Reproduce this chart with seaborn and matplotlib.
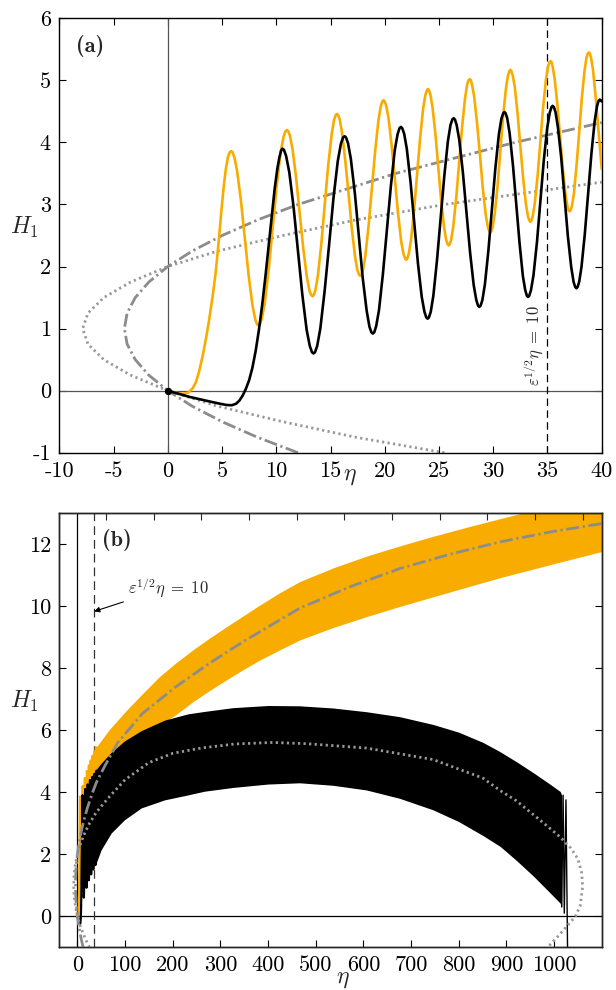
import matplotlib
matplotlib.use("Agg")
import matplotlib.pyplot as plt
import seaborn as sns

# ---- panel (a): H1(eta) curves ----
orange_eta = [0, 0.5, 1.0, 1.5, 1.9, 2.3, 2.6, 2.9, 3.2, 3.5, 3.8, 4.1, 4.4, 4.7, 4.95, 5.15, 5.35, 5.55, 5.71, 5.84,
              5.97, 6.14, 6.39, 6.75, 7.10, 7.45, 7.81, 8.06, 8.23, 8.36,
              8.49, 8.67, 8.94, 9.30, 9.67, 10.04, 10.40, 10.67, 10.85, 10.98,
              11.10, 11.26, 11.50, 11.83, 12.16, 12.49, 12.82, 13.06, 13.22, 13.34,
              13.45, 13.61, 13.84, 14.15, 14.47, 14.78, 15.10, 15.32, 15.48, 15.59,
              15.70, 15.85, 16.06, 16.36, 16.67, 16.97, 17.27, 17.48, 17.63, 17.74,
              17.85, 18.00, 18.21, 18.51, 18.82, 19.12, 19.42, 19.63, 19.78, 19.89,
              19.99, 20.14, 20.35, 20.64, 20.94, 21.23, 21.52, 21.73, 21.88, 21.98,
              22.08, 22.22, 22.42, 22.70, 22.98, 23.26, 23.54, 23.74, 23.88, 23.98,
              24.08, 24.21, 24.40, 24.67, 24.94, 25.20, 25.47, 25.66, 25.80, 25.89,
              25.99, 26.12, 26.32, 26.59, 26.86, 27.13, 27.40, 27.59, 27.72, 27.82,
              27.92, 28.05, 28.24, 28.51, 28.78, 29.04, 29.31, 29.50, 29.64, 29.73,
              29.82, 29.95, 30.14, 30.40, 30.66, 30.91, 31.17, 31.36, 31.49, 31.58,
              31.67, 31.80, 31.99, 32.24, 32.50, 32.76, 33.02, 33.20, 33.33, 33.42,
              33.51, 33.64, 33.83, 34.09, 34.35, 34.60, 34.86, 35.05, 35.18, 35.27,
              35.36, 35.48, 35.66, 35.91, 36.16, 36.41, 36.66, 36.84, 36.96, 37.05,
              37.14, 37.26, 37.44, 37.68, 37.93, 38.17, 38.42, 38.59, 38.71, 38.80,
              38.89, 39.01, 39.19, 39.43, 39.68, 39.92, 40.0]
orange_h = [0, -0.02, -0.045, -0.05, -0.03, 0.04, 0.14, 0.32, 0.55, 0.82, 1.13, 1.48, 1.88, 2.42, 2.92, 3.28, 3.57, 3.77, 3.84, 3.86,
            3.84, 3.76, 3.54, 3.05, 2.46, 1.86, 1.37, 1.15, 1.07, 1.05,
            1.07, 1.16, 1.41, 1.95, 2.63, 3.30, 3.84, 4.09, 4.18, 4.20,
            4.18, 4.11, 3.89, 3.43, 2.86, 2.29, 1.83, 1.61, 1.54, 1.52,
            1.54, 1.62, 1.86, 2.36, 2.99, 3.62, 4.12, 4.36, 4.44, 4.46,
            4.44, 4.37, 4.16, 3.71, 3.16, 2.60, 2.15, 1.94, 1.87, 1.85,
            1.87, 1.95, 2.17, 2.66, 3.27, 3.87, 4.36, 4.58, 4.66, 4.68,
            4.66, 4.59, 4.39, 3.94, 3.40, 2.85, 2.40, 2.20, 2.13, 2.11,
            2.13, 2.21, 2.43, 2.90, 3.49, 4.07, 4.55, 4.76, 4.84, 4.86,
            4.84, 4.77, 4.57, 4.14, 3.60, 3.06, 2.63, 2.43, 2.36, 2.34,
            2.36, 2.43, 2.65, 3.11, 3.68, 4.25, 4.71, 4.93, 5.00, 5.02,
            5.01, 4.93, 4.74, 4.31, 3.79, 3.26, 2.83, 2.64, 2.57, 2.55,
            2.57, 2.64, 2.85, 3.30, 3.86, 4.42, 4.87, 5.08, 5.15, 5.17,
            5.15, 5.08, 4.89, 4.47, 3.95, 3.42, 3.00, 2.81, 2.74, 2.72,
            2.74, 2.81, 3.02, 3.46, 4.02, 4.57, 5.01, 5.22, 5.29, 5.31,
            5.30, 5.22, 5.03, 4.62, 4.10, 3.58, 3.17, 2.97, 2.90, 2.89,
            2.91, 2.98, 3.18, 3.63, 4.17, 4.72, 5.16, 5.36, 5.43, 5.45,
            5.44, 5.37, 5.18, 4.76, 4.25, 3.74, 3.57]

black_eta = [0, 1, 2, 3, 4, 4.8, 5.4, 5.9, 6.3, 6.6, 6.9, 7.2, 7.5, 7.8, 8.1, 8.4, 8.7, 9.0, 9.3, 9.6, 9.85, 10.1, 10.3, 10.45, 10.57,
             10.71, 10.91, 11.20, 11.60, 12.00, 12.40, 12.80, 13.09, 13.29, 13.43,
             13.57, 13.77, 14.06, 14.46, 14.87, 15.27, 15.67, 15.96, 16.16, 16.30,
             16.43, 16.61, 16.87, 17.24, 17.60, 17.96, 18.33, 18.59, 18.77, 18.90,
             19.03, 19.21, 19.47, 19.83, 20.20, 20.56, 20.92, 21.18, 21.36, 21.49,
             21.61, 21.79, 22.03, 22.38, 22.72, 23.06, 23.41, 23.66, 23.83, 23.95,
             24.07, 24.24, 24.48, 24.81, 25.15, 25.49, 25.82, 26.06, 26.23, 26.35,
             26.47, 26.63, 26.87, 27.20, 27.54, 27.87, 28.20, 28.44, 28.60, 28.72,
             28.84, 29.00, 29.23, 29.55, 29.88, 30.20, 30.52, 30.75, 30.92, 31.03,
             31.14, 31.29, 31.51, 31.82, 32.12, 32.43, 32.73, 32.95, 33.10, 33.21,
             33.32, 33.48, 33.71, 34.03, 34.35, 34.66, 34.98, 35.21, 35.37, 35.48,
             35.59, 35.74, 35.96, 36.27, 36.58, 36.88, 37.19, 37.41, 37.56, 37.67,
             37.78, 37.93, 38.14, 38.44, 38.75, 39.05, 39.35, 39.56, 39.71, 39.82,
             39.91, 40.0]
black_h = [0, -0.05, -0.1, -0.14, -0.18, -0.21, -0.23, -0.235, -0.21, -0.16, -0.08, 0.03, 0.17, 0.37, 0.64, 0.98, 1.38, 1.84, 2.34, 2.84, 3.25, 3.58, 3.77, 3.87, 3.90,
           3.88, 3.78, 3.52, 2.95, 2.25, 1.55, 0.98, 0.72, 0.62, 0.60,
           0.62, 0.72, 1.00, 1.61, 2.35, 3.10, 3.70, 3.98, 4.08, 4.10,
           4.08, 3.99, 3.74, 3.19, 2.51, 1.83, 1.29, 1.03, 0.94, 0.92,
           0.94, 1.04, 1.30, 1.88, 2.59, 3.29, 3.87, 4.13, 4.23, 4.25,
           4.23, 4.14, 3.90, 3.36, 2.71, 2.05, 1.51, 1.27, 1.18, 1.16,
           1.18, 1.27, 1.53, 2.09, 2.78, 3.46, 4.02, 4.28, 4.37, 4.39,
           4.37, 4.28, 4.04, 3.52, 2.87, 2.22, 1.70, 1.46, 1.37, 1.35,
           1.37, 1.46, 1.71, 2.25, 2.92, 3.59, 4.13, 4.38, 4.47, 4.49,
           4.47, 4.39, 4.15, 3.63, 3.00, 2.37, 1.85, 1.62, 1.53, 1.51,
           1.53, 1.62, 1.86, 2.39, 3.05, 3.71, 4.24, 4.48, 4.57, 4.59,
           4.57, 4.49, 4.25, 3.75, 3.12, 2.49, 1.99, 1.75, 1.67, 1.65,
           1.67, 1.76, 2.00, 2.52, 3.17, 3.82, 4.34, 4.58, 4.67, 4.69,
           4.68, 4.66]

# grey reference curves near the origin (dash-dot and dotted)
dashdot_h = [-1, -0.75, -0.5, -0.25, 0, 0.25, 0.5, 0.75, 1, 1.25, 1.5, 1.75, 2,
             2.25, 2.5, 2.75, 3, 3.5, 4, 4.32]
dashdot_eta = [12, 8.25, 5, 2.25, 0, -1.75, -3, -3.75, -4, -3.75, -3, -1.75, 0,
               2.25, 5, 8.25, 12, 21, 32, 40]
dotted_h = [-1, -0.75, -0.5, -0.25, 0, 0.25, 0.5, 0.75, 1, 1.25, 1.5, 1.75, 2,
            2.25, 2.5, 2.75, 3, 3.36]
dotted_eta = [25.5, 17.3, 10.6, 4.6, 0, -3.43, -5.9, -7.36, -7.85, -7.36, -5.9, -3.43, 0,
              4.6, 10.6, 17.3, 25.5, 40]

# ---- panel (b): the same curves over the long range ----
dashdot_b_eta = [56.7, 84.7, 137, 207, 277, 347, 466, 571, 676, 781, 887, 992, 1100]
dashdot_b_h = [4.82, 5.6, 6.54, 7.4, 8.15, 8.84, 9.92, 10.61, 11.2, 11.66, 12.06, 12.38, 12.65]

dotted_b_eta = [67, 100, 150, 200, 260, 330, 410, 480, 606, 746, 851, 887, 921, 957,
                990, 1013, 1035, 1050, 1058, 1060, 1055, 1045, 1027, 1005, 985, 975]
dotted_b_h = [3.85, 4.4, 4.95, 5.25, 5.42, 5.55, 5.6, 5.56, 5.42, 5.05, 4.45, 4.05, 3.72, 3.27,
              2.85, 2.55, 2.2, 1.85, 1.4, 0.96, 0.35, 0.0, -0.32, -0.7, -1.02, -1.2]

orange_band_eta = [38, 67, 102, 137, 172, 207, 242, 277, 312, 347, 382, 424, 466, 536, 606,
                   676, 746, 816, 887, 1000, 1100]
orange_band_hi = [5.42, 6.02, 6.62, 7.18, 7.72, 8.17, 8.58, 8.96, 9.32, 9.67, 10.02, 10.42,
                  10.78, 11.22, 11.6, 11.93, 12.24, 12.53, 12.81, 13.25, 13.62]
orange_band_lo = [2.95, 4.2, 5.1, 5.8, 6.15, 6.5, 6.91, 7.27, 7.61, 7.94, 8.25, 8.58, 8.9,
                  9.3, 9.65, 9.98, 10.29, 10.6, 10.91, 11.36, 11.75]

black_band_eta = [37.7, 49.7, 70.7, 98.7, 133.8, 182.8, 231.7, 266.8, 326, 400, 466, 536, 606,
                  676, 746, 800, 851, 887, 921, 957, 992, 1013, 1016]
black_band_hi = [4.7, 4.93, 5.28, 5.65, 5.98, 6.32, 6.52, 6.6, 6.72, 6.79, 6.78, 6.71, 6.59,
                 6.43, 6.18, 5.93, 5.6, 5.3, 4.98, 4.62, 4.25, 4.02, 3.9]
black_band_lo = [1.65, 2.14, 2.68, 3.11, 3.49, 3.75, 3.91, 4.03, 4.15, 4.26, 4.3, 4.22, 4.07,
                 3.8, 3.43, 3.05, 2.6, 2.25, 1.8, 1.29, 0.75, 0.42, 0.3]
black_tail_eta = [1016, 1019, 1021.5, 1025, 1028.5]
black_tail_h = [0.3, 3.9, 0.1, 3.75, -1.3]

xticks_a = [-10, -5, 0, 5, 10, 15, 20, 25, 30, 35, 40]
yticks_a = [-1, 0, 1, 2, 3, 4, 5, 6]
xticks_b = [0, 100, 200, 300, 400, 500, 600, 700, 800, 900, 1000]
xticks_b_top = [60, 160, 260, 360, 460, 560, 660, 760, 860, 960, 1060]
yticks_b = [0, 2, 4, 6, 8, 10, 12]
eps_eta = 35  # eps^{1/2} eta = 10

ORANGE = "#F9AC00"
GREY = "#8C8C8C"
DOTGREY = "#999999"
EPS_LABEL = r"$\varepsilon^{1/2}\eta\;=\;10$"

sns.set_style("ticks")
plt.rcParams["font.family"] = ["cmr10", "DejaVu Serif"]
plt.rcParams["mathtext.fontset"] = "cm"
plt.rcParams["axes.unicode_minus"] = False
plt.rcParams["axes.linewidth"] = 1.0

DASHDOT = (0, (4.7, 1.3, 0.8, 1.3))
DOTTED = (0, (0.8, 1.2))


def style_axes(ax, xt, yt):
    ax.set_xticks(xt, [str(v) for v in xt])
    ax.set_yticks(yt, [str(v) for v in yt])
    ax.tick_params(direction="in", top=True, right=True, length=5, width=0.8,
                   labelsize=16, pad=6, colors="k")
    for s in ax.spines.values():
        s.set_color("k")


fig = plt.figure(figsize=(6.16, 9.9), dpi=100)
ax1 = fig.add_axes([0.0963, 0.5427, 0.8805, 0.4388])
ax2 = fig.add_axes([0.0963, 0.0431, 0.8805, 0.4390])

# ---------------- panel (a) ----------------
ax1.axhline(0, color="#555555", lw=0.9, zorder=1)
ax1.axvline(0, color="#555555", lw=0.9, zorder=1)
ax1.axvline(eps_eta, color="k", lw=0.9, ls=(0, (6, 3.5)), zorder=1)
sns.lineplot(x=dotted_eta, y=dotted_h, sort=False, estimator=None, ax=ax1,
             color=DOTGREY, lw=2.0, ls=DOTTED, zorder=2)
sns.lineplot(x=dashdot_eta, y=dashdot_h, sort=False, estimator=None, ax=ax1,
             color=GREY, lw=2.0, ls=DASHDOT, zorder=2)
sns.lineplot(x=orange_eta, y=orange_h, sort=False, estimator=None, ax=ax1,
             color=ORANGE, lw=1.9, zorder=3)
sns.lineplot(x=black_eta, y=black_h, sort=False, estimator=None, ax=ax1,
             color="k", lw=1.9, zorder=4)
sns.scatterplot(x=[0], y=[0], ax=ax1, color="k", s=28, zorder=5, linewidth=0)
ax1.set_xlim(-10, 40)
ax1.set_ylim(-1, 6)
style_axes(ax1, xticks_a, yticks_a)
ax1.text(eps_eta - 0.25, 0.08, EPS_LABEL, rotation=90,
         ha="right", va="bottom", fontsize=12)
ax1.text(0.03, 0.962, "(a)", transform=ax1.transAxes, fontsize=16,
         fontfamily="cmb10", ha="left", va="top")
ax1.set_xlabel(r"$\eta$", fontsize=17)
ax1.xaxis.set_label_coords(0.535, -0.029)
ax1.set_ylabel(r"$H_1$", fontsize=17, rotation=0, ha="center", va="center")
ax1.yaxis.set_label_coords(-0.065, 0.519)

# ---------------- panel (b) ----------------
ax2.axhline(0, color="k", lw=0.9, zorder=1)
ax2.axvline(0, color="k", lw=0.9, zorder=1)
ax2.axvline(eps_eta, color="#333333", lw=0.9, ls=(0, (7, 4)), zorder=1)
ax2.fill_between(orange_band_eta, orange_band_lo, orange_band_hi, color=ORANGE,
                 lw=0, zorder=2)
sns.lineplot(x=orange_eta, y=orange_h, sort=False, estimator=None, ax=ax2,
             color=ORANGE, lw=1.6, zorder=2)
ax2.fill_between(black_band_eta, black_band_lo, black_band_hi, color="k",
                 lw=0, zorder=3)
sns.lineplot(x=black_eta, y=black_h, sort=False, estimator=None, ax=ax2,
             color="k", lw=1.6, zorder=3)
sns.lineplot(x=black_tail_eta, y=black_tail_h, sort=False, estimator=None, ax=ax2,
             color="k", lw=1.0, zorder=3)
sns.lineplot(x=dashdot_eta + dashdot_b_eta, y=dashdot_h + dashdot_b_h, sort=False,
             estimator=None, ax=ax2, color=GREY, lw=2.0, ls=DASHDOT, zorder=4)
sns.lineplot(x=dotted_eta + dotted_b_eta, y=dotted_h + dotted_b_h, sort=False,
             estimator=None, ax=ax2, color=DOTGREY, lw=2.0, ls=DOTTED, zorder=4)
ax2.set_xlim(-38, 1100)
ax2.set_ylim(-1, 13)
style_axes(ax2, xticks_b, yticks_b)
ax2t = ax2.twiny()
ax2t.set_xlim(ax2.get_xlim())
ax2t.set_xticks(xticks_b_top, [""] * len(xticks_b_top))
ax2t.tick_params(axis="x", direction="in", top=True, length=5, width=0.8)
ax2.annotate(EPS_LABEL, xy=(eps_eta, 9.82), xytext=(106, 10.6),
             fontsize=12, ha="left", va="center",
             arrowprops=dict(arrowstyle="-|>", color="k", lw=0.8,
                             mutation_scale=8, shrinkA=1, shrinkB=0))
ax2.text(0.078, 0.962, "(b)", transform=ax2.transAxes, fontsize=16,
         fontfamily="cmb10", ha="left", va="top")
ax2.set_xlabel(r"$\eta$", fontsize=17)
ax2.xaxis.set_label_coords(0.523, -0.047)
ax2.set_ylabel(r"$H_1$", fontsize=17, rotation=0, ha="center", va="center")
ax2.yaxis.set_label_coords(-0.065, 0.565)

fig.savefig("out.png", dpi=100)
